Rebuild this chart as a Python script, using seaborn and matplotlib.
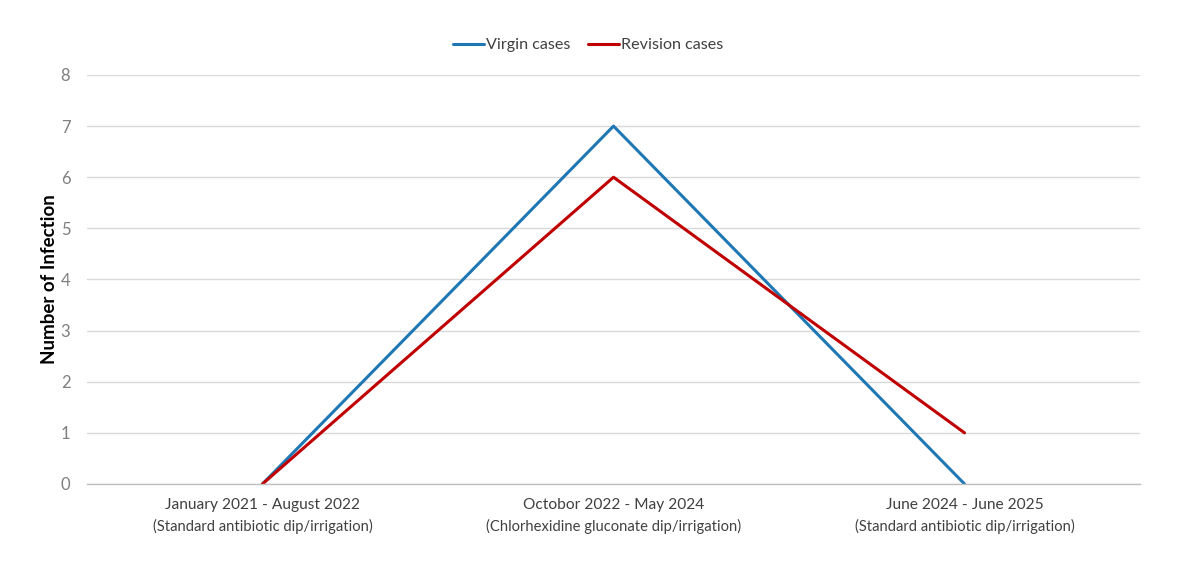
import numpy as np
import matplotlib.pyplot as plt
import pandas as pd
import seaborn as sns

periods = ["January 2021 - August 2022", "Octobor 2022 - May 2024", "June 2024 - June 2025"]
protocols = ["(Standard antibiotic dip/irrigation)",
             "(Chlorhexidine gluconate dip/irrigation)",
             "(Standard antibiotic dip/irrigation)"]
virgin = [0, 7, 0]
revision = [0, 6, 1]

df = pd.DataFrame({
    "pos": list(range(3)) * 2,
    "value": virgin + revision,
    "series": ["Virgin cases"] * 3 + ["Revision cases"] * 3,
})

sns.set_theme(style="white")
plt.rcParams['font.family'] = ['Lato', 'DejaVu Sans']

fig = plt.figure(figsize=(12, 5.68), dpi=100)
ax = fig.add_axes([0.0725, 0.148, 0.8775, 0.72])

sns.lineplot(data=df, x="pos", y="value", hue="series",
             palette={"Virgin cases": "#1f78b4", "Revision cases": "#c00000"},
             linewidth=2.2, ax=ax)

ax.set_xlim(-0.5, 2.5)
ax.set_ylim(0, 8)
ax.set_yticks(range(0, 9))
ax.yaxis.grid(True, color="#d9d9d9", linewidth=1)
ax.set_axisbelow(True)
for s in ["top", "right", "left"]:
    ax.spines[s].set_visible(False)
ax.spines["bottom"].set_color("#bfbfbf")
ax.spines["bottom"].set_linewidth(1)
ax.tick_params(axis="both", length=0, colors="#7f7f7f", labelsize=12)
ax.tick_params(axis="y", pad=12)
ax.tick_params(axis="x", pad=10)

ax.set_xticks(range(3))
ax.set_xticklabels(periods, color="#404040", fontsize=11.2)
for i, p in enumerate(protocols):
    ax.annotate(p, xy=(i, 0), xycoords=("data", "axes fraction"),
                xytext=(0, -25), textcoords="offset points",
                ha="center", va="top", fontsize=10.6, color="#404040")

ax.set_xlabel("")
ax.set_ylabel("Number of Infection", fontsize=13.5, fontweight="bold", color="black", labelpad=2)

leg = ax.legend(loc="lower center", bbox_to_anchor=(0.476, 1.02), ncol=2, frameon=False,
                fontsize=11.6, handlelength=1.9, handletextpad=0.15, columnspacing=1.1)
for t in leg.get_texts():
    t.set_color("#404040")

fig.savefig("out.png", dpi=100)
